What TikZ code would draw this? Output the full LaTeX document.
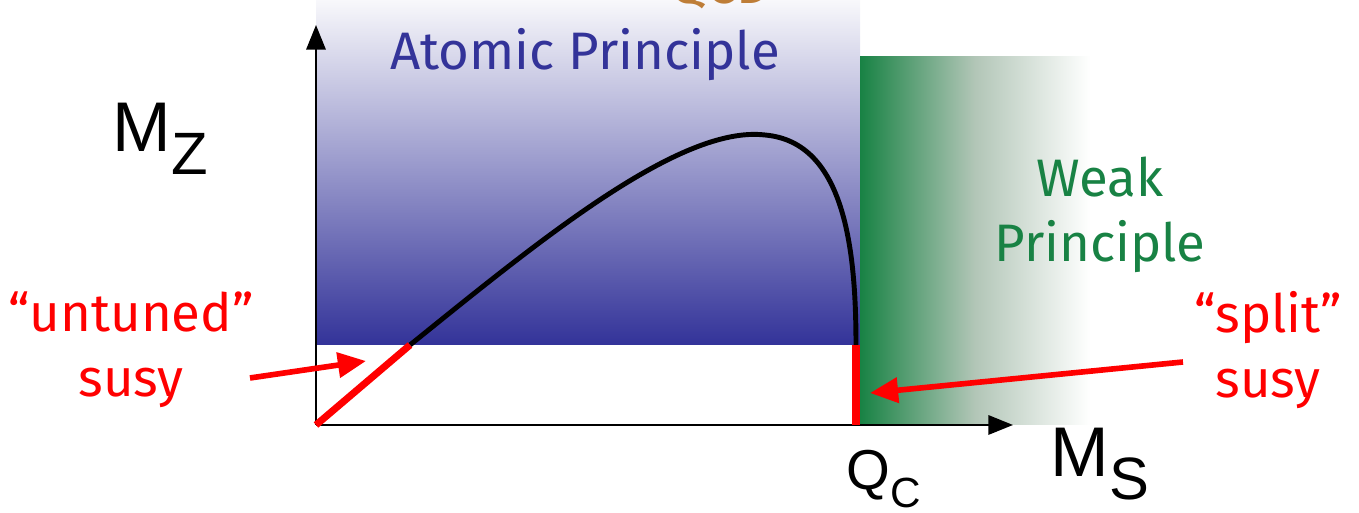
\documentclass[tikz,border=0pt]{standalone}
\usepackage{fontspec}
\setmainfont{Liberation Sans}
\newfontfamily\handfont{Fira Sans}
\usetikzlibrary{positioning, arrows.meta}

\definecolor{atomblue}{RGB}{51,51,153}
\definecolor{atomtop}{RGB}{248,248,251}
\definecolor{weakgreen}{RGB}{24,130,68}
\definecolor{weakmid}{RGB}{178,198,183}
\definecolor{qcdbrown}{RGB}{190,125,55}

\newcommand{\lowsub}[2]{\raisebox{-0.32em}{\fontsize{#1}{#1}\selectfont #2}}

\begin{document}
\begin{tikzpicture}[x=0.01cm, y=-0.01cm,
        axis/.style={-{Triangle[length=7pt, width=5.5pt]}, line width=0.6pt},
        hand/.style={font=\handfont\fontsize{15}{18.5}\selectfont, align=center},
        redlabel/.style={hand, text=red},
        susyline/.style={red, line width=2pt},
        pointer/.style={-{Triangle[length=8pt, width=7pt]}, red, line width=1.6pt},
        biglabel/.style={font=\fontsize{20}{22}\selectfont, anchor=base west, inner sep=0pt}
    ]
        \clip (0,0) rectangle (1359,513);

        % Regions
        \shade[top color=atomtop, bottom color=atomblue] (316,0) rectangle (860,345);
        \shade[left color=weakgreen, right color=white, middle color=weakmid] (860,57) rectangle (1090,425);

        % Axes
        \coordinate (origin) at (316,425);
        \coordinate (ytip) at (316,25);
        \coordinate (xtip) at (1013,425);
        \draw[axis] (origin) -- (ytip);
        \draw[axis] (origin) -- (xtip);

        % Curve and susy lines
        \coordinate (kink) at (410,345);
        \coordinate (peak) at (765,135);
        \coordinate (edge) at (856,345);
        \coordinate (qc) at (856,425);
        \draw[line width=1.4pt] (kink) .. controls (540,240) and (680,125) .. (peak)
            .. controls (845,142) and (856,250) .. (edge);
        \draw[susyline] (origin) -- (kink);
        \draw[susyline] (edge) -- (qc);

        % Labels
        \node[hand, text=qcdbrown, anchor=base] (qcd) at (720,4) {QCD};
        \node[hand, text=atomblue, anchor=base] (atomic) at (585,70) {Atomic Principle};
        \node[hand, text=weakgreen] (weak) at (1100,215) {Weak\\Principle};
        \node[redlabel] (untuned) at (131,350) {“untuned”\\susy};
        \node[redlabel] (split) at (1268,350) {“split”\\susy};
        \node[biglabel] (mz) at (112,152) {M\lowsub{17}{Z}};
        \node[biglabel] (ms) at (1050,477) {M\lowsub{17}{S}};
        \node[biglabel, font=\fontsize{16}{18}\selectfont] (qclabel) at (846,490) {Q\lowsub{12}{C}};

        % Pointers
        \coordinate (ustart) at (250,378);
        \coordinate (uend) at (366,361);
        \coordinate (sstart) at (1183,362);
        \coordinate (send) at (870,393);
        \draw[pointer] (ustart) -- (uend);
        \draw[pointer] (sstart) -- (send);
    \end{tikzpicture}
\end{document}
